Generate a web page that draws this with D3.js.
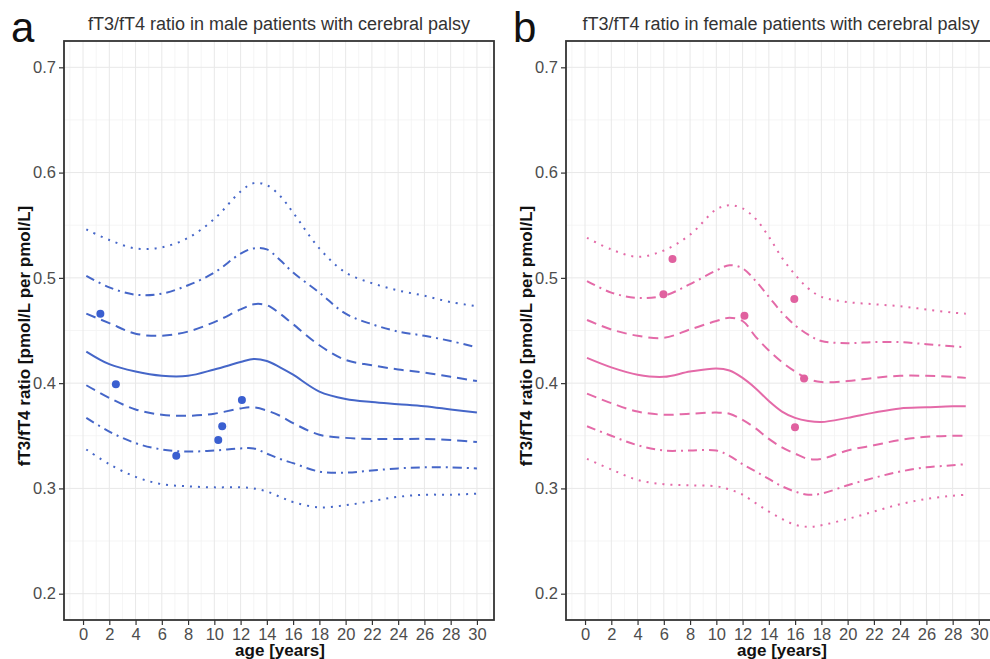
<!DOCTYPE html>
<html>
<head>
<meta charset="utf-8">
<script src="https://cdn.jsdelivr.net/npm/d3@7"></script>
<style>
  body { margin: 0; background: #fff; }
  svg { display: block; font-family: "Liberation Sans", Arial, sans-serif; }
</style>
</head>
<body>
<svg id="chart" width="990" height="659"></svg>
<script>
// tick labels
const ageTicks = d3.range(0, 31, 2);
const ratioTicks = [0.2, 0.3, 0.4, 0.5, 0.6, 0.7];

// male centile curves
const maleAge = [0.25, 2, 4, 6, 8, 10, 12, 13, 14, 15, 16, 18, 20, 22, 24, 26, 28, 30];
const maleP97 = [0.546, 0.536, 0.528, 0.529, 0.538, 0.556, 0.582, 0.590, 0.588, 0.578, 0.562, 0.528, 0.505, 0.495, 0.488, 0.483, 0.477, 0.473];
const maleP90 = [0.502, 0.491, 0.484, 0.485, 0.493, 0.505, 0.523, 0.528, 0.527, 0.517, 0.505, 0.486, 0.466, 0.456, 0.449, 0.445, 0.440, 0.434];
const maleP75 = [0.466, 0.457, 0.447, 0.445, 0.449, 0.458, 0.470, 0.475, 0.474, 0.466, 0.456, 0.436, 0.422, 0.417, 0.413, 0.410, 0.406, 0.402];
const maleP50 = [0.430, 0.418, 0.411, 0.407, 0.407, 0.413, 0.420, 0.423, 0.421, 0.415, 0.408, 0.392, 0.385, 0.382, 0.380, 0.378, 0.375, 0.372];
const maleP25 = [0.398, 0.386, 0.375, 0.370, 0.369, 0.371, 0.376, 0.377, 0.374, 0.369, 0.362, 0.351, 0.348, 0.347, 0.347, 0.347, 0.346, 0.344];
const maleP10 = [0.367, 0.354, 0.343, 0.337, 0.335, 0.336, 0.338, 0.338, 0.333, 0.328, 0.324, 0.316, 0.315, 0.317, 0.319, 0.320, 0.320, 0.319];
const maleP3  = [0.337, 0.323, 0.311, 0.304, 0.302, 0.301, 0.301, 0.300, 0.297, 0.292, 0.287, 0.282, 0.284, 0.288, 0.292, 0.294, 0.294, 0.295];
const malePtAge   = [1.32, 2.5, 7.1, 10.3, 10.6, 12.1];
const malePtRatio = [0.466, 0.399, 0.331, 0.346, 0.359, 0.384];

// female centile curves
const femaleAge = [0.15, 2, 4, 6, 8, 10, 11, 12, 13, 14, 15, 16, 17, 18, 20, 22, 24, 26, 28, 29];
const femaleP97 = [0.538, 0.527, 0.520, 0.526, 0.541, 0.565, 0.569, 0.566, 0.556, 0.539, 0.519, 0.503, 0.490, 0.482, 0.477, 0.475, 0.473, 0.470, 0.467, 0.466];
const femaleP90 = [0.497, 0.486, 0.481, 0.483, 0.494, 0.507, 0.512, 0.509, 0.497, 0.482, 0.467, 0.455, 0.446, 0.440, 0.438, 0.439, 0.439, 0.437, 0.435, 0.434];
const femaleP75 = [0.460, 0.451, 0.445, 0.443, 0.451, 0.459, 0.462, 0.459, 0.444, 0.431, 0.420, 0.411, 0.404, 0.401, 0.402, 0.405, 0.407, 0.407, 0.406, 0.405];
const femaleP50 = [0.424, 0.415, 0.408, 0.406, 0.411, 0.414, 0.412, 0.405, 0.395, 0.383, 0.373, 0.367, 0.364, 0.363, 0.367, 0.372, 0.376, 0.377, 0.378, 0.378];
const femaleP25 = [0.390, 0.381, 0.373, 0.370, 0.371, 0.372, 0.371, 0.365, 0.357, 0.347, 0.339, 0.333, 0.328, 0.328, 0.336, 0.341, 0.346, 0.349, 0.350, 0.350];
const femaleP10 = [0.359, 0.350, 0.341, 0.336, 0.336, 0.336, 0.331, 0.323, 0.316, 0.309, 0.302, 0.297, 0.294, 0.295, 0.303, 0.310, 0.316, 0.320, 0.322, 0.323];
const femaleP3  = [0.328, 0.318, 0.308, 0.304, 0.303, 0.302, 0.299, 0.294, 0.286, 0.278, 0.271, 0.2655, 0.2635, 0.265, 0.271, 0.278, 0.285, 0.290, 0.293, 0.294];
const femalePtAge   = [5.97, 6.66, 12.14, 15.94, 15.99, 16.68];
const femalePtRatio = [0.4845, 0.518, 0.464, 0.480, 0.358, 0.4045];

const svg = d3.select("#chart");

const dotted = "2,6";
const dashdot = "9,5,2,5";
const dashed = "10,6";

function panel(cfg) {
  let left = cfg.left, top = 41, w = 430, h = 579;
  let x = d3.scaleLinear().domain([-1.45, 31.3]).range([left, left + w]);
  let y = d3.scaleLinear().domain([0.175, 0.725]).range([top + h, top]);

  let g = svg.append("g");
  let clip = "clip" + cfg.letter;
  g.append("clipPath").attr("id", clip)
    .append("rect").attr("x", left).attr("y", top).attr("width", w).attr("height", h);

  // grid, minor then major
  let minorX = d3.range(-1, 32, 2);
  let minorY = [0.25, 0.35, 0.45, 0.55, 0.65];
  g.selectAll(".mx").data(minorX).join("line")
    .attr("x1", d => x(d)).attr("x2", d => x(d)).attr("y1", top).attr("y2", top + h)
    .attr("stroke", "#f2f2f2").attr("stroke-width", 0.8);
  g.selectAll(".my").data(minorY).join("line")
    .attr("x1", left).attr("x2", left + w).attr("y1", d => y(d)).attr("y2", d => y(d))
    .attr("stroke", "#f2f2f2").attr("stroke-width", 0.8);
  g.selectAll(".gx").data(ageTicks).join("line")
    .attr("x1", d => x(d)).attr("x2", d => x(d)).attr("y1", top).attr("y2", top + h)
    .attr("stroke", "#e8e8e8").attr("stroke-width", 1);
  g.selectAll(".gy").data(ratioTicks).join("line")
    .attr("x1", left).attr("x2", left + w).attr("y1", d => y(d)).attr("y2", d => y(d))
    .attr("stroke", "#e8e8e8").attr("stroke-width", 1);

  // centile curves
  let line = d3.line().curve(d3.curveCatmullRom.alpha(0.5))
    .x((d, i) => x(cfg.age[i])).y(d => y(d));
  let plot = g.append("g").attr("clip-path", "url(#" + clip + ")");
  cfg.curves.forEach(c => {
    plot.append("path").datum(c.values)
      .attr("d", line)
      .attr("fill", "none")
      .attr("stroke", cfg.color)
      .attr("stroke-width", 2)
      .attr("stroke-dasharray", c.dash);
  });

  // patients
  plot.selectAll("circle").data(cfg.ptAge).join("circle")
    .attr("cx", d => x(d))
    .attr("cy", (d, i) => y(cfg.ptRatio[i]))
    .attr("r", 4)
    .attr("fill", cfg.pointColor);

  // border
  g.append("rect").attr("x", left).attr("y", top).attr("width", w).attr("height", h)
    .attr("fill", "none").attr("stroke", "#333").attr("stroke-width", 1.8);

  // axes
  let xAxis = g.append("g").attr("transform", "translate(0," + (top + h) + ")")
    .call(d3.axisBottom(x).tickValues(ageTicks).tickSize(5).tickPadding(3));
  let yAxis = g.append("g").attr("transform", "translate(" + left + ",0)")
    .call(d3.axisLeft(y).tickValues(ratioTicks).tickFormat(d3.format(".1f")).tickSize(5).tickPadding(3));
  [xAxis, yAxis].forEach(a => {
    a.select(".domain").remove();
    a.selectAll(".tick line").attr("stroke", "#333").attr("stroke-width", 1.2);
    a.selectAll(".tick text").attr("fill", "#4d4d4d").attr("font-size", 16.5)
      .attr("font-family", "Liberation Sans, Arial, sans-serif");
  });

  // titles
  g.append("text").attr("x", left + w / 2).attr("y", 30)
    .attr("text-anchor", "middle").attr("font-size", 18).attr("fill", "#333")
    .text(cfg.title);
  g.append("text").attr("x", left + w / 2 + 1).attr("y", 656)
    .attr("text-anchor", "middle").attr("font-size", 17).attr("font-weight", "bold").attr("fill", "#111")
    .text("age [years]");
  g.append("text")
    .attr("transform", "translate(" + (left - 34) + "," + 336 + ") rotate(-90)")
    .attr("text-anchor", "middle").attr("font-size", 17).attr("font-weight", "bold").attr("fill", "#111")
    .text("fT3/fT4 ratio [pmol/L per pmol/L]");
  g.append("text").attr("x", cfg.letterX).attr("y", 42)
    .attr("font-size", 42).attr("fill", "#111")
    .text(cfg.letter);
}

panel({
  left: 64, letter: "a", letterX: 11,
  title: "fT3/fT4 ratio in male patients with cerebral palsy",
  color: "#4566c8", pointColor: "#3a5fd0",
  age: maleAge,
  curves: [
    { values: maleP97, dash: dotted },
    { values: maleP90, dash: dashdot },
    { values: maleP75, dash: dashed },
    { values: maleP50, dash: null },
    { values: maleP25, dash: dashed },
    { values: maleP10, dash: dashdot },
    { values: maleP3, dash: dotted }
  ],
  ptAge: malePtAge, ptRatio: malePtRatio
});

panel({
  left: 566, letter: "b", letterX: 513,
  title: "fT3/fT4 ratio in female patients with cerebral palsy",
  color: "#e46aa8", pointColor: "#e0619f",
  age: femaleAge,
  curves: [
    { values: femaleP97, dash: dotted },
    { values: femaleP90, dash: dashdot },
    { values: femaleP75, dash: dashed },
    { values: femaleP50, dash: null },
    { values: femaleP25, dash: dashed },
    { values: femaleP10, dash: dashdot },
    { values: femaleP3, dash: dotted }
  ],
  ptAge: femalePtAge, ptRatio: femalePtRatio
});
</script>
</body>
</html>
